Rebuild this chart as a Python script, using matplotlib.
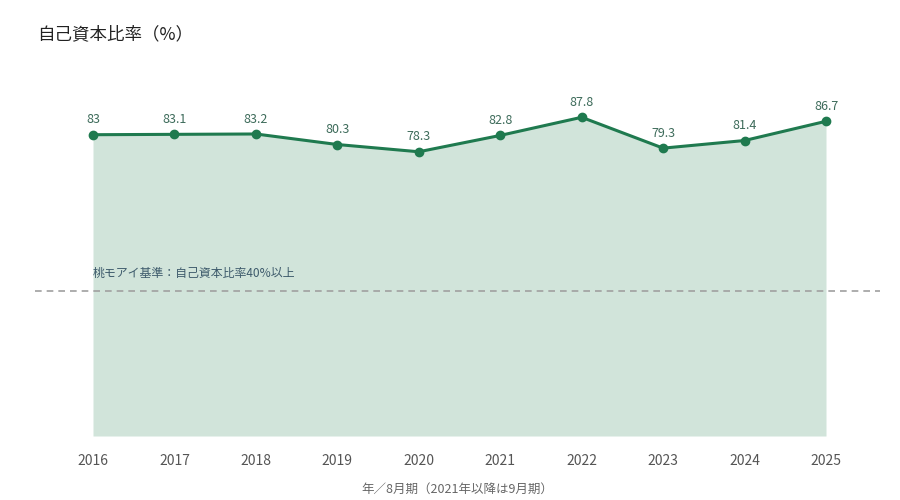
import matplotlib
matplotlib.use("Agg")
import matplotlib.pyplot as plt

plt.rcParams['font.family'] = ['Noto Sans CJK JP', 'DejaVu Sans']

years = [2016, 2017, 2018, 2019, 2020, 2021, 2022, 2023, 2024, 2025]
ratio = [83, 83.1, 83.2, 80.3, 78.3, 82.8, 87.8, 79.3, 81.4, 86.7]
value_labels = ["83", "83.1", "83.2", "80.3", "78.3", "82.8", "87.8", "79.3", "81.4", "86.7"]
threshold = 40
title = "自己資本比率（%）"
threshold_label = "桃モアイ基準：自己資本比率40%以上"
xlabel = "年／8月期（2021年以降は9月期）"

line_color = "#1f7a4f"
fill_color = "#d1e4da"

fig = plt.figure(figsize=(9, 5), dpi=100)
ax = fig.add_axes([35/900, 64/500, 845/900, 363/500])

ax.fill_between(years, ratio, 0, color=fill_color, linewidth=0)
ax.plot(years, ratio, color=line_color, linewidth=2.2, marker='o', markersize=6, zorder=3)
for x, y, t in zip(years, ratio, value_labels):
    ax.annotate(t, (x, y), xytext=(0, 6), textcoords='offset points',
                ha='center', va='bottom', fontsize=9, color="#3d6b5a")

ax.axhline(threshold, color="#a0a0a0", linestyle=(0, (4, 3)), linewidth=1.2, zorder=2)
ax.text(years[0], threshold + 3, threshold_label, fontsize=8.6, color="#3d5a6b",
        ha='left', va='bottom')

ax.set_xlim(2015.288, 2025.663)
ax.set_ylim(0, 100)
ax.set_xticks(years)
ax.set_xticklabels([str(y) for y in years], fontsize=10, color="#555555")
ax.tick_params(axis='x', length=0, pad=13)
ax.set_yticks([])
for s in ax.spines.values():
    s.set_visible(False)

fig.text(37/900, 1 - 34/500, title, fontsize=12.6, color="#222222", ha='left', va='center')
fig.text((35 + 845/2)/900, 1 - 489/500, xlabel, fontsize=9, color="#666666", ha='center', va='center')

fig.savefig("out.png", dpi=100)
